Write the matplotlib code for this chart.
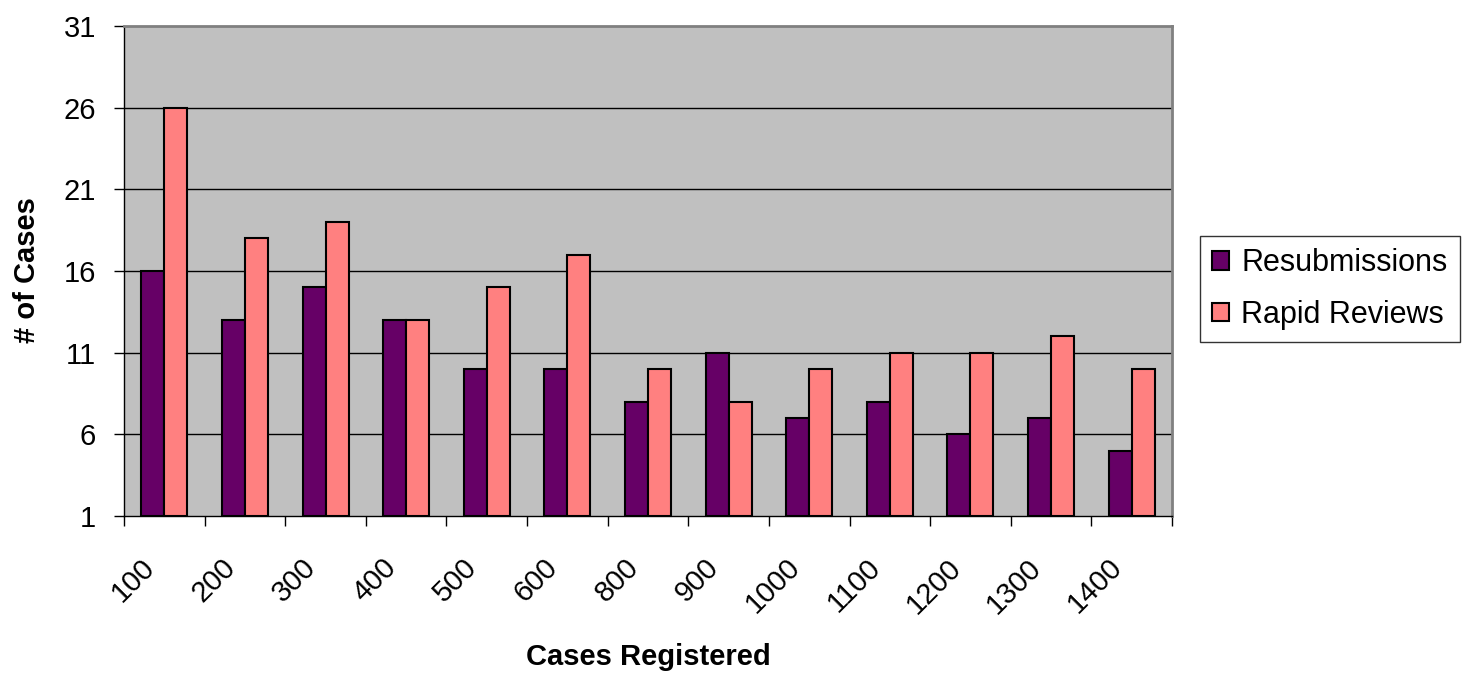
import matplotlib
matplotlib.use("Agg")
import matplotlib.pyplot as plt
from matplotlib.transforms import ScaledTranslation
import numpy as np

categories = ["100", "200", "300", "400", "500", "600", "800", "900",
              "1000", "1100", "1200", "1300", "1400"]
resubmissions = [16, 13, 15, 13, 10, 10, 8, 11, 7, 8, 6, 7, 5]
rapid_reviews = [26, 18, 19, 13, 15, 17, 10, 8, 10, 11, 11, 12, 10]
y_ticks = [1, 6, 11, 16, 21, 26, 31]

plt.rcParams['font.family'] = ['Liberation Sans', 'DejaVu Sans']

fig = plt.figure(figsize=(14.72, 6.76), dpi=100)
ax = fig.add_axes([124/1472, 1-516/676, (1172-124)/1472, (516-26)/676])
ax.set_facecolor('#C0C0C0')

x = np.arange(len(categories))
w = 0.285
ax.bar(x - w/2, np.array(resubmissions) - 1, w, bottom=1, color='#660066',
       edgecolor='black', linewidth=1.5, label='Resubmissions', zorder=3)
ax.bar(x + w/2, np.array(rapid_reviews) - 1, w, bottom=1, color='#FF8080',
       edgecolor='black', linewidth=1.5, label='Rapid Reviews', zorder=3)

ax.set_xlim(-0.5, len(categories) - 0.5)
ax.set_ylim(1, 31)
ax.set_yticks(y_ticks)
ax.set_yticklabels([str(v) for v in y_ticks], fontsize=21)
for v in y_ticks[1:-1]:
    ax.axhline(v, color='black', linewidth=1, zorder=1)

ax.set_xticks(x)
ax.set_xticklabels(categories, rotation=45, ha='right', va='center',
                   rotation_mode='anchor', fontsize=21)
ax.tick_params(axis='x', length=0, pad=34)
off = ScaledTranslation(-14/100, 0, fig.dpi_scale_trans)
for lab in ax.get_xticklabels():
    lab.set_transform(lab.get_transform() + off)
ax.set_xticks(np.arange(len(categories) + 1) - 0.5, minor=True)
ax.tick_params(axis='x', which='minor', length=7, width=1, direction='out')
ax.tick_params(axis='y', length=7, width=1, direction='out', pad=13)

for s in ['top', 'right']:
    ax.spines[s].set_color('#808080')
    ax.spines[s].set_linewidth(2)
for s in ['left', 'bottom']:
    ax.spines[s].set_color('black')
    ax.spines[s].set_linewidth(1)

fig.text(27/1472, 1-270/676, '# of Cases', fontsize=21, fontweight='bold',
         rotation=90, ha='center', va='center')
fig.text(648/1472, 1-657/676, 'Cases Registered', fontsize=21,
         fontweight='bold', ha='center', va='center')

leg = ax.legend(loc='upper left', bbox_to_anchor=(1200/1472, 1-236/676),
                bbox_transform=fig.transFigure, fontsize=22, frameon=True,
                fancybox=False, edgecolor='black', handlelength=0.55,
                handleheight=0.55, handletextpad=0.4, borderpad=0.4,
                labelspacing=0.7, borderaxespad=0)
leg.get_frame().set_linewidth(1)

fig.savefig('out.png', dpi=100, facecolor='white')
